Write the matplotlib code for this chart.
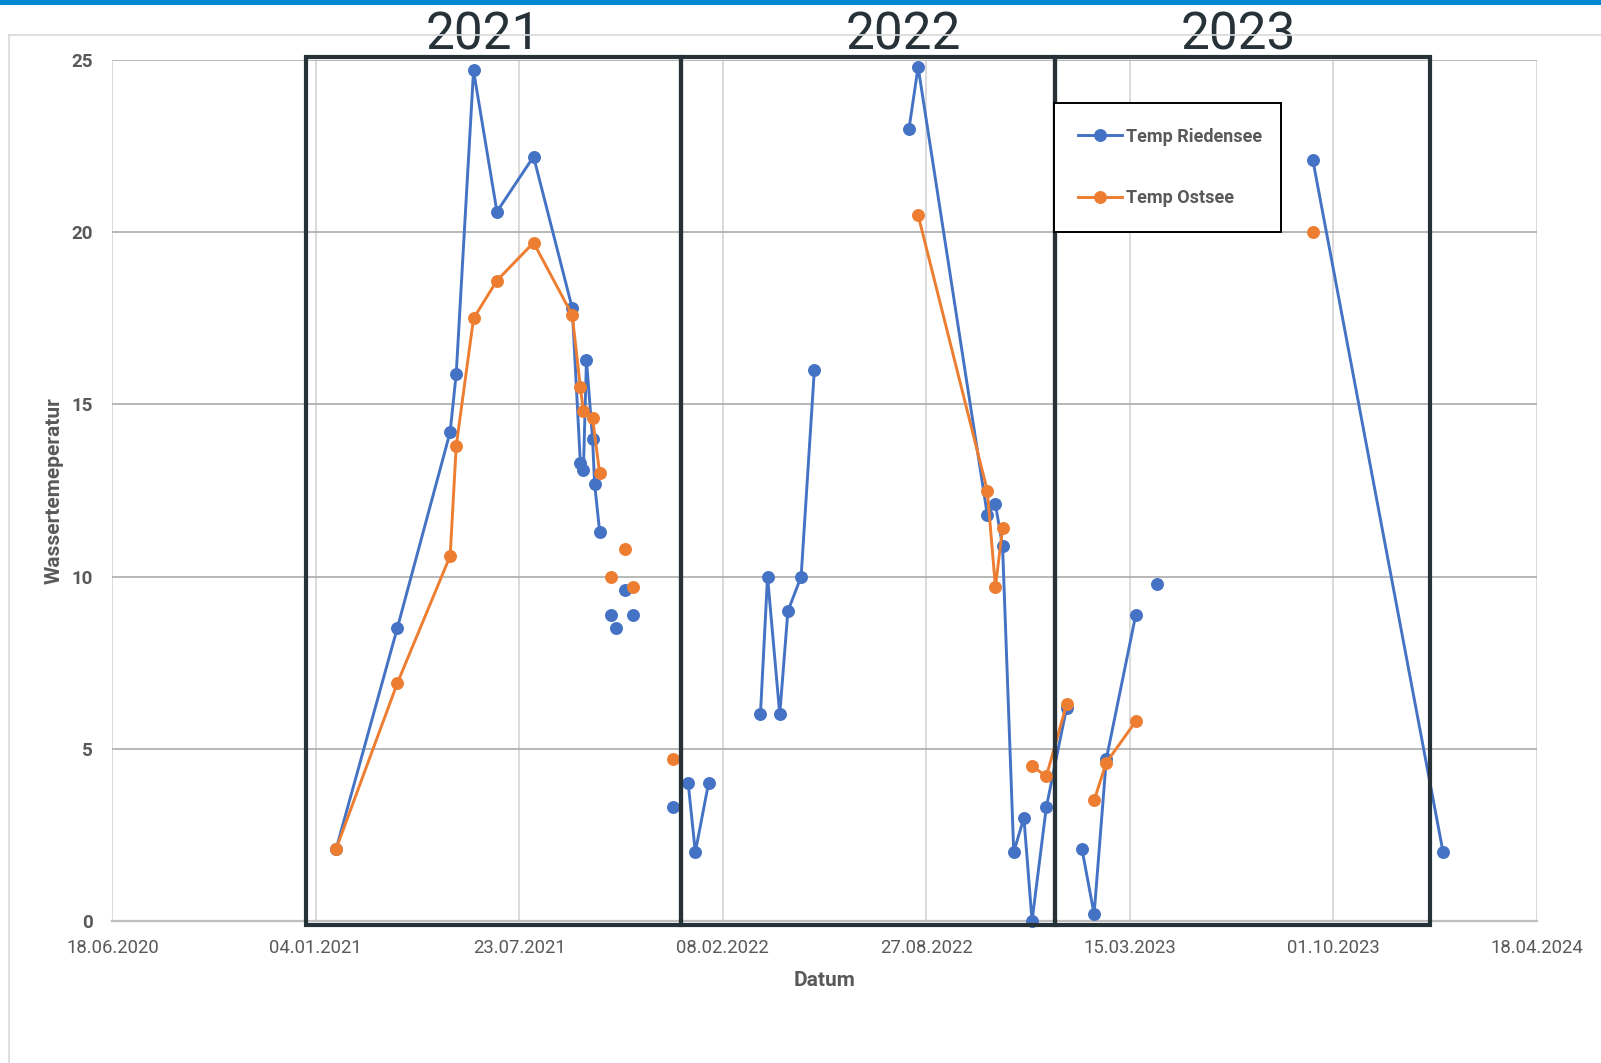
import matplotlib
matplotlib.use("Agg")
import matplotlib.pyplot as plt
import matplotlib.dates as mdates
from matplotlib.patches import Rectangle
from matplotlib.lines import Line2D
import numpy as np
import pandas as pd

plt.rcParams["font.family"] = ["Roboto", "DejaVu Sans"]

# --- data -----------------------------------------------------------------
# None entries break the line (no connecting segment across them)
riedensee_dates = [
    "2021-01-24", "2021-03-25", "2021-05-16", "2021-05-22", "2021-06-08",
    "2021-07-01", "2021-08-06", "2021-09-13", "2021-09-21", "2021-09-24",
    "2021-09-27", "2021-10-03", "2021-10-05", "2021-10-10", None,
    "2021-10-21", None, "2021-10-26", None, "2021-11-04", None,
    "2021-11-12", None, "2021-12-21", None,
    "2022-01-05", "2022-01-12", "2022-01-25", None,
    "2022-03-17", "2022-03-24", "2022-04-05", "2022-04-13", "2022-04-26",
    "2022-05-09", None,
    "2022-08-10", "2022-08-19", "2022-10-26", "2022-11-03", "2022-11-10",
    "2022-11-21", "2022-12-01", "2022-12-09", "2022-12-23", "2023-01-12", None,
    "2023-01-27", "2023-02-08", "2023-02-20", "2023-03-21", None,
    "2023-04-11", None,
    "2023-09-11", "2024-01-17",
]
riedensee_temp = [
    2.1, 8.5, 14.2, 15.9, 24.7,
    20.6, 22.2, 17.8, 13.3, 13.1,
    16.3, 14.0, 12.7, 11.3, None,
    8.9, None, 8.5, None, 9.6, None,
    8.9, None, 3.3, None,
    4.0, 2.0, 4.0, None,
    6.0, 10.0, 6.0, 9.0, 10.0,
    16.0, None,
    23.0, 24.8, 11.8, 12.1, 10.9,
    2.0, 3.0, 0.0, 3.3, 6.2, None,
    2.1, 0.2, 4.7, 8.9, None,
    9.8, None,
    22.1, 2.0,
]

ostsee_dates = [
    "2021-01-24", "2021-03-25", "2021-05-16", "2021-05-22", "2021-06-08",
    "2021-07-01", "2021-08-06", "2021-09-13", "2021-09-21", "2021-09-24",
    "2021-10-03", "2021-10-10", None,
    "2021-10-21", None, "2021-11-04", None, "2021-11-12", None,
    "2021-12-21", None,
    "2022-08-19", "2022-10-26", "2022-11-03", "2022-11-10", None,
    "2022-12-09", "2022-12-23", "2023-01-12", None,
    "2023-02-08", "2023-02-20", "2023-03-21", None,
    "2023-09-11",
]
ostsee_temp = [
    2.1, 6.9, 10.6, 13.8, 17.5,
    18.6, 19.7, 17.6, 15.5, 14.8,
    14.6, 13.0, None,
    10.0, None, 10.8, None, 9.7, None,
    4.7, None,
    20.5, 12.5, 9.7, 11.4, None,
    4.5, 4.2, 6.3, None,
    3.5, 4.6, 5.8, None,
    20.0,
]

x_tick_labels = ["18.06.2020", "04.01.2021", "23.07.2021", "08.02.2022",
                 "27.08.2022", "15.03.2023", "01.10.2023", "18.04.2024"]
y_ticks = [0, 5, 10, 15, 20, 25]

years = ["2021", "2022", "2023"]
year_box_edges = ["2020-12-25", "2021-12-29", "2023-01-01", "2024-01-04"]
year_label_dates = ["2021-06-18", "2022-08-04", "2023-06-30"]

BLUE = "#4472C4"
ORANGE = "#ED7D31"
GREY_TEXT = "#595959"
BOX = "#263238"


def to_xy(dates, values):
    """Turn date/value lists with None separators into plottable arrays."""
    xs, ys = [], []
    last = None
    for d, v in zip(dates, values):
        if d is None:
            xs.append(last)
            ys.append(np.nan)
        else:
            last = mdates.date2num(pd.Timestamp(d))
            xs.append(last)
            ys.append(np.nan if v is None else v)
    return np.array(xs), np.array(ys, dtype=float)


W, H = 1601, 1063
fig = plt.figure(figsize=(W / 100, H / 100), dpi=100)
fig.patch.set_facecolor("white")

# top accent band and chart-area border
fig.add_artist(Rectangle((0, 1 - 5 / H), 1, 5 / H, transform=fig.transFigure,
                         color="#0288D1", lw=0))
fig.add_artist(Line2D([9 / W, 1], [1 - 35 / H, 1 - 35 / H], transform=fig.transFigure,
                      color="#d9d9d9", lw=1.2))
fig.add_artist(Line2D([9 / W, 9 / W], [0, 1 - 35 / H], transform=fig.transFigure,
                      color="#d9d9d9", lw=1.2))

ax = fig.add_axes([0.0702, 0.1336, 0.8896, 0.8098])

tick_dates = pd.to_datetime(x_tick_labels, format="%d.%m.%Y")
ax.set_xlim(mdates.date2num(tick_dates[0]), mdates.date2num(tick_dates[-1]))
ax.set_ylim(0, 25)
ax.set_xticks(mdates.date2num(tick_dates))
ax.set_xticklabels(x_tick_labels)
ax.set_yticks(y_ticks)
ax.set_yticklabels([str(v) for v in y_ticks])

ax.tick_params(axis="x", length=0, pad=13, labelsize=13.3, labelcolor=GREY_TEXT)
ax.tick_params(axis="y", length=0, pad=14, labelsize=13.5, labelcolor=GREY_TEXT)
for lbl in ax.get_yticklabels():
    lbl.set_fontweight("bold")

for s in ["top", "right", "left"]:
    ax.spines[s].set_visible(False)
ax.spines["bottom"].set_color("#bfbfbf")
ax.spines["bottom"].set_linewidth(1.6)

ax.grid(axis="y", color="#ababab", lw=1.2, zorder=0)
ax.grid(axis="x", color="#d4d4d4", lw=1.2, zorder=0)
ax.set_axisbelow(True)

# series
bx, by = to_xy(riedensee_dates, riedensee_temp)
ox, oy = to_xy(ostsee_dates, ostsee_temp)
ax.plot(bx, by, color=BLUE, lw=2.1, marker="o", ms=8.3, label="Temp Riedensee",
        clip_on=False, zorder=3)
ax.plot(ox, oy, color=ORANGE, lw=2.1, marker="o", ms=8.3, label="Temp Ostsee",
        clip_on=False, zorder=3)

# year frames
for i in range(len(years)):
    x0 = mdates.date2num(pd.Timestamp(year_box_edges[i]))
    x1 = mdates.date2num(pd.Timestamp(year_box_edges[i + 1]))
    ax.add_patch(Rectangle((x0, -0.12), x1 - x0, 25.2, fill=False, ec=BOX,
                           lw=3.0, clip_on=False, zorder=4, joinstyle="miter"))
    ax.text(mdates.date2num(pd.Timestamp(year_label_dates[i])), 25.31, years[i],
            ha="center", va="baseline", fontsize=37, color=BOX, clip_on=False)

ax.set_xlabel("Datum", fontsize=15, fontweight="bold", color=GREY_TEXT)
ax.xaxis.set_label_coords(0.5, -0.058)
ax.set_ylabel("Wassertemeperatur", fontsize=15, fontweight="bold", color=GREY_TEXT)
ax.yaxis.set_label_coords(-0.034, 0.5)

leg = ax.legend(loc="upper left", bbox_to_anchor=(0.661, 0.8016, 0.1595, 0.1487),
                mode="expand", borderaxespad=0, fontsize=13, frameon=True,
                fancybox=False, framealpha=1, edgecolor="black",
                handlelength=2.4, handletextpad=0.25, labelspacing=2.43,
                borderpad=1.36, numpoints=1)
leg.get_frame().set_linewidth(1.4)
leg.set_zorder(6)
for t in leg.get_texts():
    t.set_fontweight("bold")
    t.set_color(GREY_TEXT)

fig.savefig("out.png", dpi=100)
